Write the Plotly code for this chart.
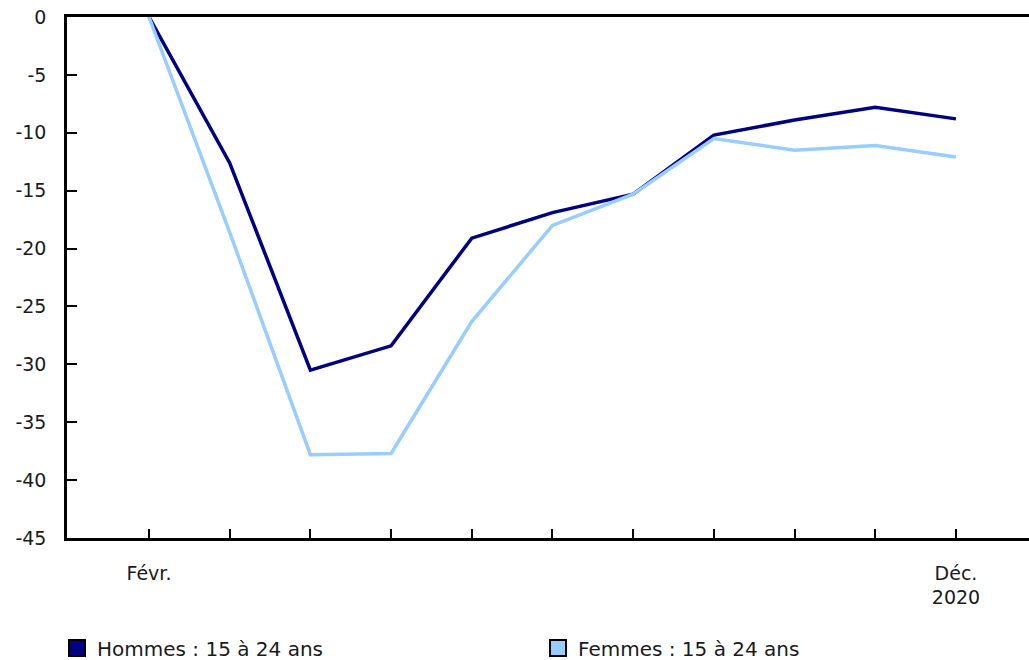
import plotly.graph_objects as go

months = ["Févr.", "Mars", "Avr.", "Mai", "Juin", "Juil.", "Août", "Sept.", "Oct.", "Nov.", "Déc."]
tick_text = ["Févr.", "", "", "", "", "", "", "", "", "", "Déc.<br>2020"]
hommes = [0, -12.6, -30.5, -28.4, -19.1, -16.9, -15.3, -10.2, -8.9, -7.8, -8.8]
femmes = [0, -18.6, -37.8, -37.7, -26.3, -18.0, -15.3, -10.5, -11.5, -11.1, -12.1]
y_ticks = [0, -5, -10, -15, -20, -25, -30, -35, -40, -45]
y_tick_text = ["0", "-5", "-10", "-15", "-20", "-25", "-30", "-35", "-40", "-45"]

c_h = "#000080"
c_f = "#99CCFF"
font = "Verdana, DejaVu Sans, sans-serif"

x = list(range(len(months)))
fig = go.Figure()
fig.add_trace(go.Scatter(x=x, y=hommes, mode="lines", line=dict(color=c_h, width=3.5), showlegend=False))
fig.add_trace(go.Scatter(x=x, y=femmes, mode="lines", line=dict(color=c_f, width=3.5), showlegend=False))
for name, col in [("Hommes : 15 à 24 ans", c_h), ("Femmes : 15 à 24 ans", c_f)]:
    fig.add_trace(go.Scatter(x=[None], y=[None], mode="markers", name=name,
                             marker=dict(symbol="square", size=20, color=col, line=dict(color="black", width=2))))

fig.update_layout(
    width=1029, height=660,
    margin=dict(l=67, r=0, t=17, b=122),
    plot_bgcolor="white", paper_bgcolor="white",
    font=dict(family=font, size=19, color="#1a1a1a"),
    xaxis=dict(range=[-1.016, 10.905], tickvals=x, ticktext=tick_text, ticks="inside", ticklen=9,
               tickwidth=1.5, tickcolor="black", showline=True, linecolor="black", linewidth=2.5,
               mirror=True, showgrid=False, zeroline=False, ticklabelstandoff=16),
    yaxis=dict(range=[-45, 0], tickvals=y_ticks, ticktext=y_tick_text, ticks="inside", ticklen=10,
               tickwidth=1.5, tickcolor="black", showline=True, linecolor="black", linewidth=2.5,
               showgrid=False, zeroline=False, ticklabelstandoff=14),
    legend=dict(orientation="h", xref="container", x=0.0554, xanchor="left",
                yref="container", y=0.018, yanchor="middle",
                entrywidth=436, entrywidthmode="pixels", font=dict(size=20), itemsizing="trace"),
)
fig.write_html("out.html", config={"displayModeBar": False},
               post_script="document.body.style.margin='0';document.body.style.overflow='hidden';")
